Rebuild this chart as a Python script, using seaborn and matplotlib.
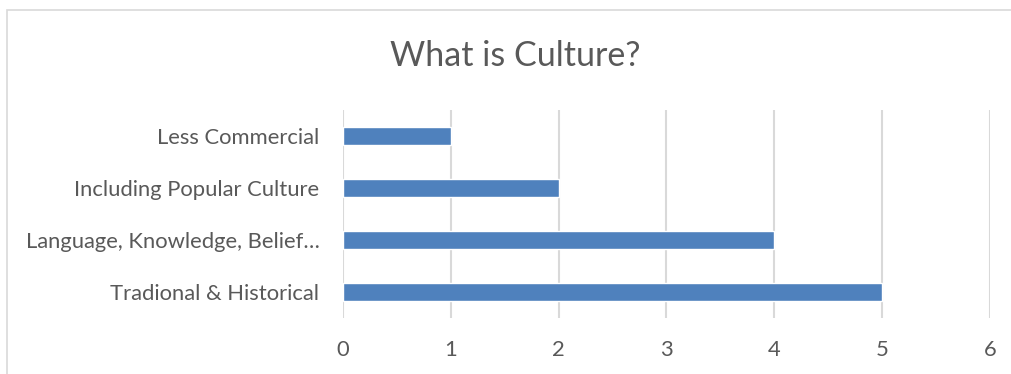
import matplotlib
matplotlib.use("Agg")
import matplotlib.pyplot as plt
import seaborn as sns
import pandas as pd
from matplotlib.patches import Rectangle

categories = ["Less Commercial", "Including Popular Culture",
              "Language, Knowledge, Belief\u2026", "Tradional & Historical"]
values = [1, 2, 4, 5]
x_ticks = [0, 1, 2, 3, 4, 5, 6]

df = pd.DataFrame({"category": categories, "count": values})

sns.set_theme(style="white")
plt.rcParams["font.family"] = ["Lato", "DejaVu Sans"]

text_color = "#595959"
grid_color = "#D9D9D9"
bar_color = "#4F81BD"

fig = plt.figure(figsize=(10.12, 3.74), dpi=100)
ax = fig.add_axes([343 / 1012, 1 - 318 / 374, (990 - 343) / 1012, (318 - 110) / 374])

sns.barplot(data=df, y="category", x="count", order=categories, color=bar_color,
            saturation=1, width=0.36, ax=ax)

ax.set_xlim(0, 6)
ax.set_ylim(3.5, -0.5)
ax.set_xticks(x_ticks)
ax.set_xticklabels([str(t) for t in x_ticks])
ax.xaxis.grid(True, color=grid_color, linewidth=1.5)
ax.set_axisbelow(True)
for s in ax.spines.values():
    s.set_visible(False)
ax.tick_params(axis="both", length=0, labelsize=15.8, colors=text_color)
ax.tick_params(axis="x", pad=16)
ax.tick_params(axis="y", pad=17)
ax.set_xlabel("")
ax.set_ylabel("")

fig.text(515 / 1012, 1 - 56 / 374, "What is Culture?", ha="center", va="center",
         fontsize=24.5, color=text_color)

fig.patches.append(Rectangle((7 / 1012, -0.1), 1.2, 1 - 10 / 374 + 0.1,
                             transform=fig.transFigure, fill=False,
                             edgecolor=grid_color, linewidth=1.2))

fig.savefig("out.png", dpi=100)
